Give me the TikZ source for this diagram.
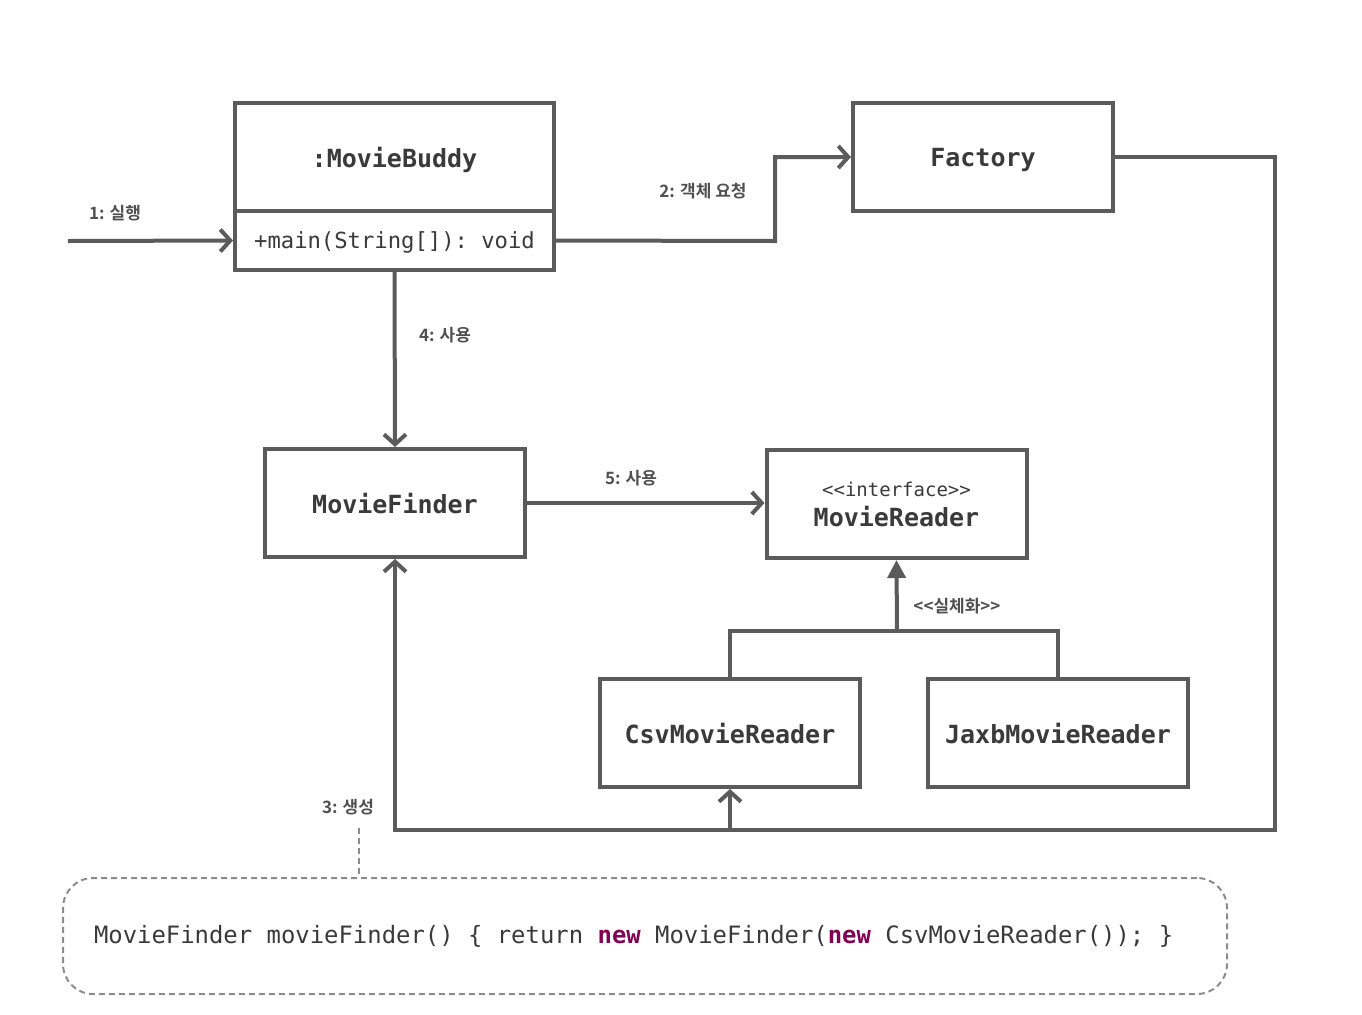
\documentclass[tikz,border=0pt]{standalone}
\usepackage{fontspec}
\setmonofont{DejaVu Sans Mono}
\newfontfamily\krfont{Noto Sans CJK KR}[BoldFont={Noto Sans CJK KR Bold}]
\usetikzlibrary{arrows.meta}

\definecolor{linegray}{RGB}{91,91,91}
\definecolor{textgray}{RGB}{58,58,58}
\definecolor{labelgray}{RGB}{80,80,80}
\definecolor{notegray}{RGB}{140,140,140}
\definecolor{keyword}{RGB}{127,0,85}

\tikzset{every picture/.style={line width=2pt}}
\tikzset{
	classbox/.style={draw=linegray, line width=2pt, fill=white, minimum width=130pt, minimum height=54pt, inner sep=0pt, text depth=0pt, text=textgray, font=\ttfamily\bfseries\fontsize{12.5}{14}\selectfont},
	msglabel/.style={text=labelgray, font=\krfont\bfseries\fontsize{8.5}{10}\selectfont, inner sep=0pt},
	useline/.style={draw=linegray, line width=2pt, -{Straight Barb[length=5pt,width=11pt,line width=2pt]}},
	realline/.style={draw=linegray, line width=2pt, -{Triangle[length=9pt,width=9pt]}},
	plainline/.style={draw=linegray, line width=2pt},
	notebox/.style={draw=notegray, line width=1pt, dash pattern=on 3pt off 2pt, rounded corners=15pt, minimum width=582pt, minimum height=58pt},
	noteline/.style={draw=notegray, line width=1pt, dash pattern=on 3pt off 2pt}
}

\begin{document}
\begin{tikzpicture}[x=0.5pt,y=0.5pt,yscale=-1,xscale=1]
	\useasboundingbox (0,0) rectangle (1362,1014);

	% Class Boxes
	\node [classbox, minimum width=159.5pt] (buddy) at (394.5,157) {:MovieBuddy};
	\node [classbox, minimum width=159.5pt, minimum height=29.5pt, font=\ttfamily\fontsize{11.1}{13}\selectfont] (main) at (394.5,240.5) {+main(String[]): void};
	\node [classbox] (factory) at (983,157) {Factory};
	\node [classbox] (finder) at (395,503) {MovieFinder};
	\node [classbox, align=center] (reader) at (896.5,504) {{\mdseries\fontsize{9.5}{11}\selectfont <{}<interface>{}>}\\[1pt]MovieReader};
	\node [classbox] (csv) at (730,733) {CsvMovieReader};
	\node [classbox] (jaxb) at (1058,733) {JaxbMovieReader};

	% Note
	\node [notebox] (note) at (645,936) {};
	\node [anchor=west, inner sep=0pt, text=textgray, font=\ttfamily\fontsize{11.95}{14}\selectfont] (code) at (92,936) {MovieFinder movieFinder() \{ return \textcolor{keyword}{\bfseries new} MovieFinder(\textcolor{keyword}{\bfseries new} CsvMovieReader()); \}};

	% Coordinates
	\coordinate (start) at (68,241);
	\coordinate (bend) at (775,241);
	\coordinate (corner) at (1275,830);
	\coordinate (split) at (730,830);
	\coordinate (join) at (897,631);
	\coordinate (memo) at (359,828);

	% Connectors
	\draw [useline] (start) -- (main.west);
	\draw [useline] (main.east) -- (bend) |- (factory.west);
	\draw [useline] (factory.east) -| (corner) -| (finder.south);
	\draw [useline] (split) -- (csv.south);
	\draw [useline] (main.south) -- (finder.north);
	\draw [useline] (finder.east) -- (finder.east -| reader.west);
	\draw [plainline] (csv.north) |- (join) -| (jaxb.north);
	\draw [realline] (join) -- (reader.south);
	\draw [noteline] (memo) -- (memo |- note.north);

	% Text Node
	\node [msglabel] (l1) at (115,213) {1: 실행};
	% Text Node
	\node [msglabel] (l2) at (703,191) {2: 객체 요청};
	% Text Node
	\node [msglabel] (l3) at (348,807) {3: 생성};
	% Text Node
	\node [msglabel] (l4) at (445,335) {4: 사용};
	% Text Node
	\node [msglabel] (l5) at (631,478) {5: 사용};
	% Text Node
	\node [msglabel] (l6) at (957,606) {<{}<실체화>{}>};

\end{tikzpicture}
\end{document}
